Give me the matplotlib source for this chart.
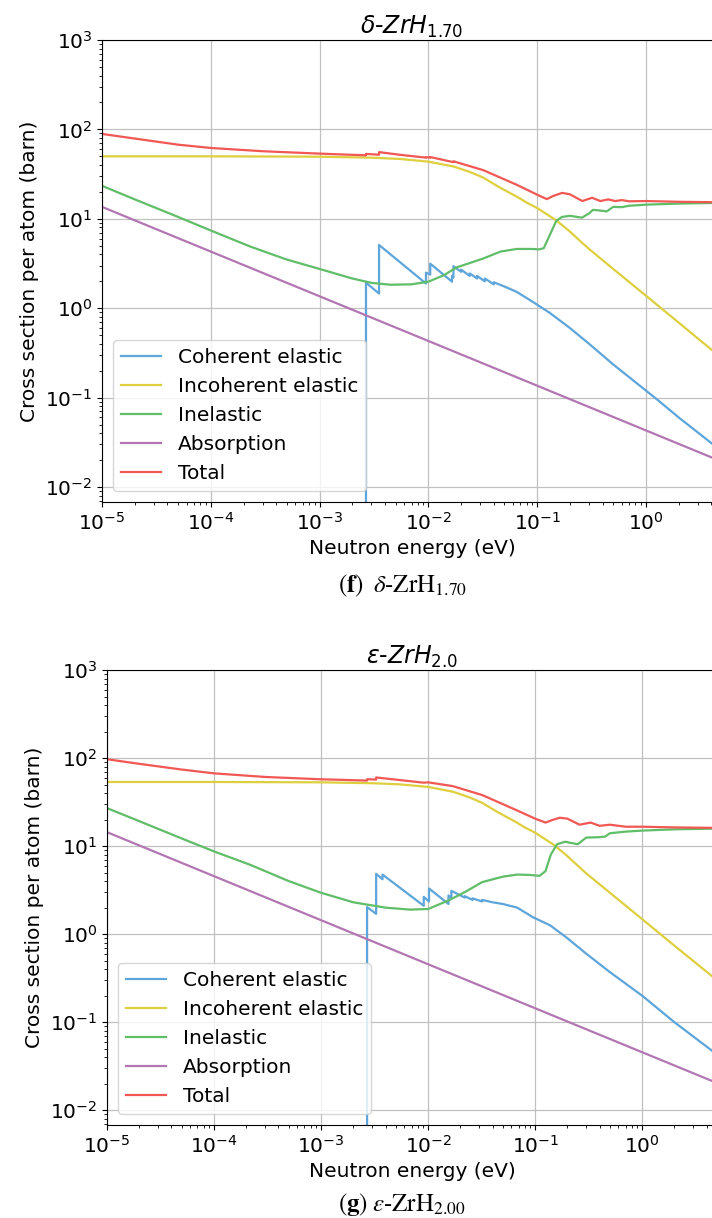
import numpy as np
import matplotlib
matplotlib.use("Agg")
import matplotlib.pyplot as plt

# colours of the cross-section components
c_coh = "#5DA5DA"
c_inc = "#DECF3F"
c_inel = "#60BD68"
c_abs = "#B276B2"
c_tot = "#F15854"

# ---------------- delta-ZrH1.70 (panel f) ----------------
f_coh_E = [2.67e-3, 2.67e-3, 3.52e-3, 3.52e-3, 9.5e-3, 9.5e-3, 1.04e-2, 1.04e-2, 1.65e-2, 1.65e-2,
           1.7e-2, 1.7e-2, 2.0e-2, 2.0e-2, 2.4e-2, 2.4e-2, 2.8e-2, 2.8e-2, 3.3e-2, 3.3e-2,
           4.0e-2, 4.0e-2, 5e-2, 6.5e-2, 9.1e-2, 0.13, 0.2, 0.3, 0.5, 1.27, 2.0, 5.0]
f_coh = [0.005, 1.93, 1.46, 5.1, 1.89, 2.5, 2.38, 3.15, 1.98, 2.3,
         2.2, 2.95, 2.55, 2.7, 2.3, 2.45, 2.15, 2.3, 2.0, 2.15,
         1.85, 1.95, 1.75, 1.52, 1.18, 0.89, 0.6, 0.4, 0.235, 0.095, 0.06, 0.025]

f_inc_E = [1e-5, 1e-4, 1e-3, 3e-3, 5.5e-3, 1e-2, 1.7e-2, 2.4e-2, 3.2e-2, 4.5e-2, 6.5e-2, 8e-2,
           0.1, 0.15, 0.2, 0.25, 0.3, 0.5, 1.0, 2.0, 5.0]
f_inc = [50, 50, 49.5, 48.3, 46.7, 43.6, 38.5, 33.5, 28.9, 22.5, 17.7, 15.2,
         13.2, 9.6, 7.2, 5.6, 4.6, 2.75, 1.38, 0.69, 0.275]

f_inel_E = [1e-5, 2e-5, 5e-5, 1e-4, 2.3e-4, 5e-4, 1e-3, 2e-3, 3e-3, 4.5e-3, 7e-3, 1e-2, 1.4e-2,
            1.8e-2, 2.4e-2, 3.2e-2, 4.6e-2, 6.5e-2, 9e-2, 0.105, 0.115, 0.13, 0.15, 0.169, 0.2,
            0.258, 0.3, 0.326, 0.37, 0.436, 0.5, 0.6, 0.7, 1.0, 2.0, 5.0]
f_inel = [23.4, 16.5, 10.5, 7.4, 4.9, 3.5, 2.75, 2.15, 1.92, 1.83, 1.85, 1.98, 2.35,
          2.85, 3.2, 3.6, 4.3, 4.6, 4.6, 4.55, 4.7, 6.5, 9.5, 10.5, 10.8,
          10.3, 11.5, 12.6, 12.4, 12.1, 13.6, 13.5, 14.0, 14.4, 14.8, 15.1]

f_abs_E = [1e-5, 1e-3, 1e-1, 5.0]
f_abs = [13.6, 1.36, 0.136, 0.0192]

f_tot_E = [1e-5, 2e-5, 5e-5, 1e-4, 3e-4, 1e-3, 2.67e-3, 2.67e-3, 3.52e-3, 3.52e-3, 5.5e-3,
           9.5e-3, 9.5e-3, 1.04e-2, 1.04e-2, 1.7e-2, 1.7e-2, 3.2e-2, 6.5e-2, 0.1, 0.123,
           0.14, 0.17, 0.2, 0.26, 0.32, 0.38, 0.45, 0.52, 0.6, 0.7, 1.0, 2.0, 5.0]
f_tot = [89, 79, 67.5, 62, 57, 53.6, 51.3, 53.2, 52.1, 55.7, 52.0,
         48.3, 48.9, 48.3, 49.1, 43.0, 44.0, 35.0, 24.0, 18.6, 16.6,
         18.0, 19.5, 18.8, 15.8, 17.2, 15.8, 16.5, 15.8, 16.2, 15.7, 15.8, 15.5, 15.3]

# ---------------- epsilon-ZrH2.0 (panel g) ----------------
g_coh_E = [2.69e-3, 2.69e-3, 3.27e-3, 3.27e-3, 3.75e-3, 3.75e-3, 9.1e-3, 9.1e-3, 1.02e-2, 1.02e-2,
           1.55e-2, 1.55e-2, 1.65e-2, 1.65e-2, 2.2e-2, 2.2e-2, 2.6e-2, 2.6e-2, 3.2e-2, 3.2e-2,
           4.0e-2, 5e-2, 6.8e-2, 9.6e-2, 0.138, 0.2, 0.3, 0.5, 1.0, 2.0, 5.0]
g_coh = [0.005, 2.03, 1.70, 4.85, 4.2, 4.75, 2.1, 2.65, 2.35, 3.3,
         2.2, 2.75, 2.6, 3.1, 2.6, 2.7, 2.45, 2.55, 2.35, 2.45,
         2.3, 2.2, 2.0, 1.55, 1.26, 0.9, 0.6, 0.37, 0.2, 0.1, 0.043]

g_inc_E = [1e-5, 1e-4, 1e-3, 3e-3, 5.5e-3, 1e-2, 1.7e-2, 2.4e-2, 3.2e-2, 4.5e-2, 6.5e-2, 8e-2,
           0.1, 0.15, 0.2, 0.25, 0.3, 0.5, 1.0, 2.0, 5.0]
g_inc = [53.5, 53.5, 53.0, 51.8, 50.2, 47.0, 41.5, 36.0, 31.0, 24.2, 19.0, 16.3,
         14.2, 10.3, 7.7, 6.0, 4.9, 2.95, 1.48, 0.74, 0.3]

g_inel_E = [1e-5, 2e-5, 5e-5, 1e-4, 2.2e-4, 5e-4, 1e-3, 2e-3, 4e-3, 6.8e-3, 1e-2, 1.58e-2,
            2.2e-2, 3.2e-2, 5e-2, 6.8e-2, 9e-2, 0.11, 0.125, 0.14, 0.16, 0.19, 0.25, 0.3,
            0.38, 0.45, 0.5, 0.7, 1.0, 2.0, 5.0]
g_inel = [27, 19.2, 12.2, 8.7, 6.1, 4.0, 2.95, 2.3, 2.0, 1.9, 1.93, 2.44,
          3.0, 3.9, 4.5, 4.75, 4.7, 4.6, 5.2, 8.0, 10.5, 11.2, 10.5, 12.5,
          12.6, 12.8, 14.0, 14.6, 15.0, 15.5, 15.8]

g_abs_E = [1e-5, 1e-3, 1e-1, 5.0]
g_abs = [14.4, 1.44, 0.144, 0.0204]

g_tot_E = [1e-5, 2e-5, 5e-5, 1e-4, 3e-4, 1e-3, 2.69e-3, 2.69e-3, 3.27e-3, 3.27e-3, 9.1e-3,
           1e-2, 1.7e-2, 3.2e-2, 6.5e-2, 0.1, 0.125, 0.145, 0.17, 0.2, 0.26, 0.33, 0.4,
           0.5, 0.7, 1.0, 2.0, 5.0]
g_tot = [97, 86, 74, 67, 61, 57.4, 55.5, 57.5, 57.0, 60.2, 52.5,
         53.0, 48.0, 38.0, 26.0, 20.5, 18.5, 19.8, 21.0, 20.5, 17.5, 18.5, 17.0,
         17.5, 16.6, 16.6, 16.3, 16.1]

panels = [
    dict(title=r"$\delta$-$ZrH_{1.70}$", caption=r"$(\mathbf{f})\;\;\delta$-ZrH$_{1.70}$",
         coh=(f_coh_E, f_coh), inc=(f_inc_E, f_inc), inel=(f_inel_E, f_inel),
         abs=(f_abs_E, f_abs), tot=(f_tot_E, f_tot),
         rect=[102 / 712, 1 - 502 / 1218, 620 / 712, 462 / 1218], cap_y=1 - 586 / 1218),
    dict(title=r"$\varepsilon$-$ZrH_{2.0}$", caption=r"$(\mathbf{g})\;\epsilon$-ZrH$_{2.00}$",
         coh=(g_coh_E, g_coh), inc=(g_inc_E, g_inc), inel=(g_inel_E, g_inel),
         abs=(g_abs_E, g_abs), tot=(g_tot_E, g_tot),
         rect=[107 / 712, 1 - 1125 / 1218, 610 / 712, 455 / 1218], cap_y=1 - 1204 / 1218),
]

fs = 14.5
fig = plt.figure(figsize=(7.12, 12.18), dpi=100)

for p in panels:
    ax = fig.add_axes(p["rect"])
    ax.plot(*p["coh"], color=c_coh, lw=1.6, label="Coherent elastic")
    ax.plot(*p["inc"], color=c_inc, lw=1.6, label="Incoherent elastic")
    ax.plot(*p["inel"], color=c_inel, lw=1.6, label="Inelastic")
    ax.plot(*p["abs"], color=c_abs, lw=1.6, label="Absorption")
    ax.plot(*p["tot"], color=c_tot, lw=1.6, label="Total")
    ax.set_xscale("log")
    ax.set_yscale("log")
    ax.set_xlim(1e-5, 5)
    ax.set_ylim(0.0068, 1e3)
    ax.grid(True, which="major", color="#c0c0c0", lw=0.9)
    ax.set_xticks([1e-5, 1e-4, 1e-3, 1e-2, 1e-1, 1e0])
    ax.tick_params(labelsize=fs)
    ax.set_title(p["title"], fontsize=17, pad=4)
    ax.set_xlabel("Neutron energy (eV)", fontsize=fs)
    ax.set_ylabel("Cross section per atom (barn)", fontsize=fs)
    ax.legend(loc="lower left", fontsize=fs, handlelength=2.0, labelspacing=0.5,
              borderaxespad=0.55)
    fig.text(0.565, p["cap_y"], p["caption"], ha="center", va="center", fontsize=18,
             family="STIXGeneral", math_fontfamily="stix")

fig.savefig("out.png", dpi=100)
